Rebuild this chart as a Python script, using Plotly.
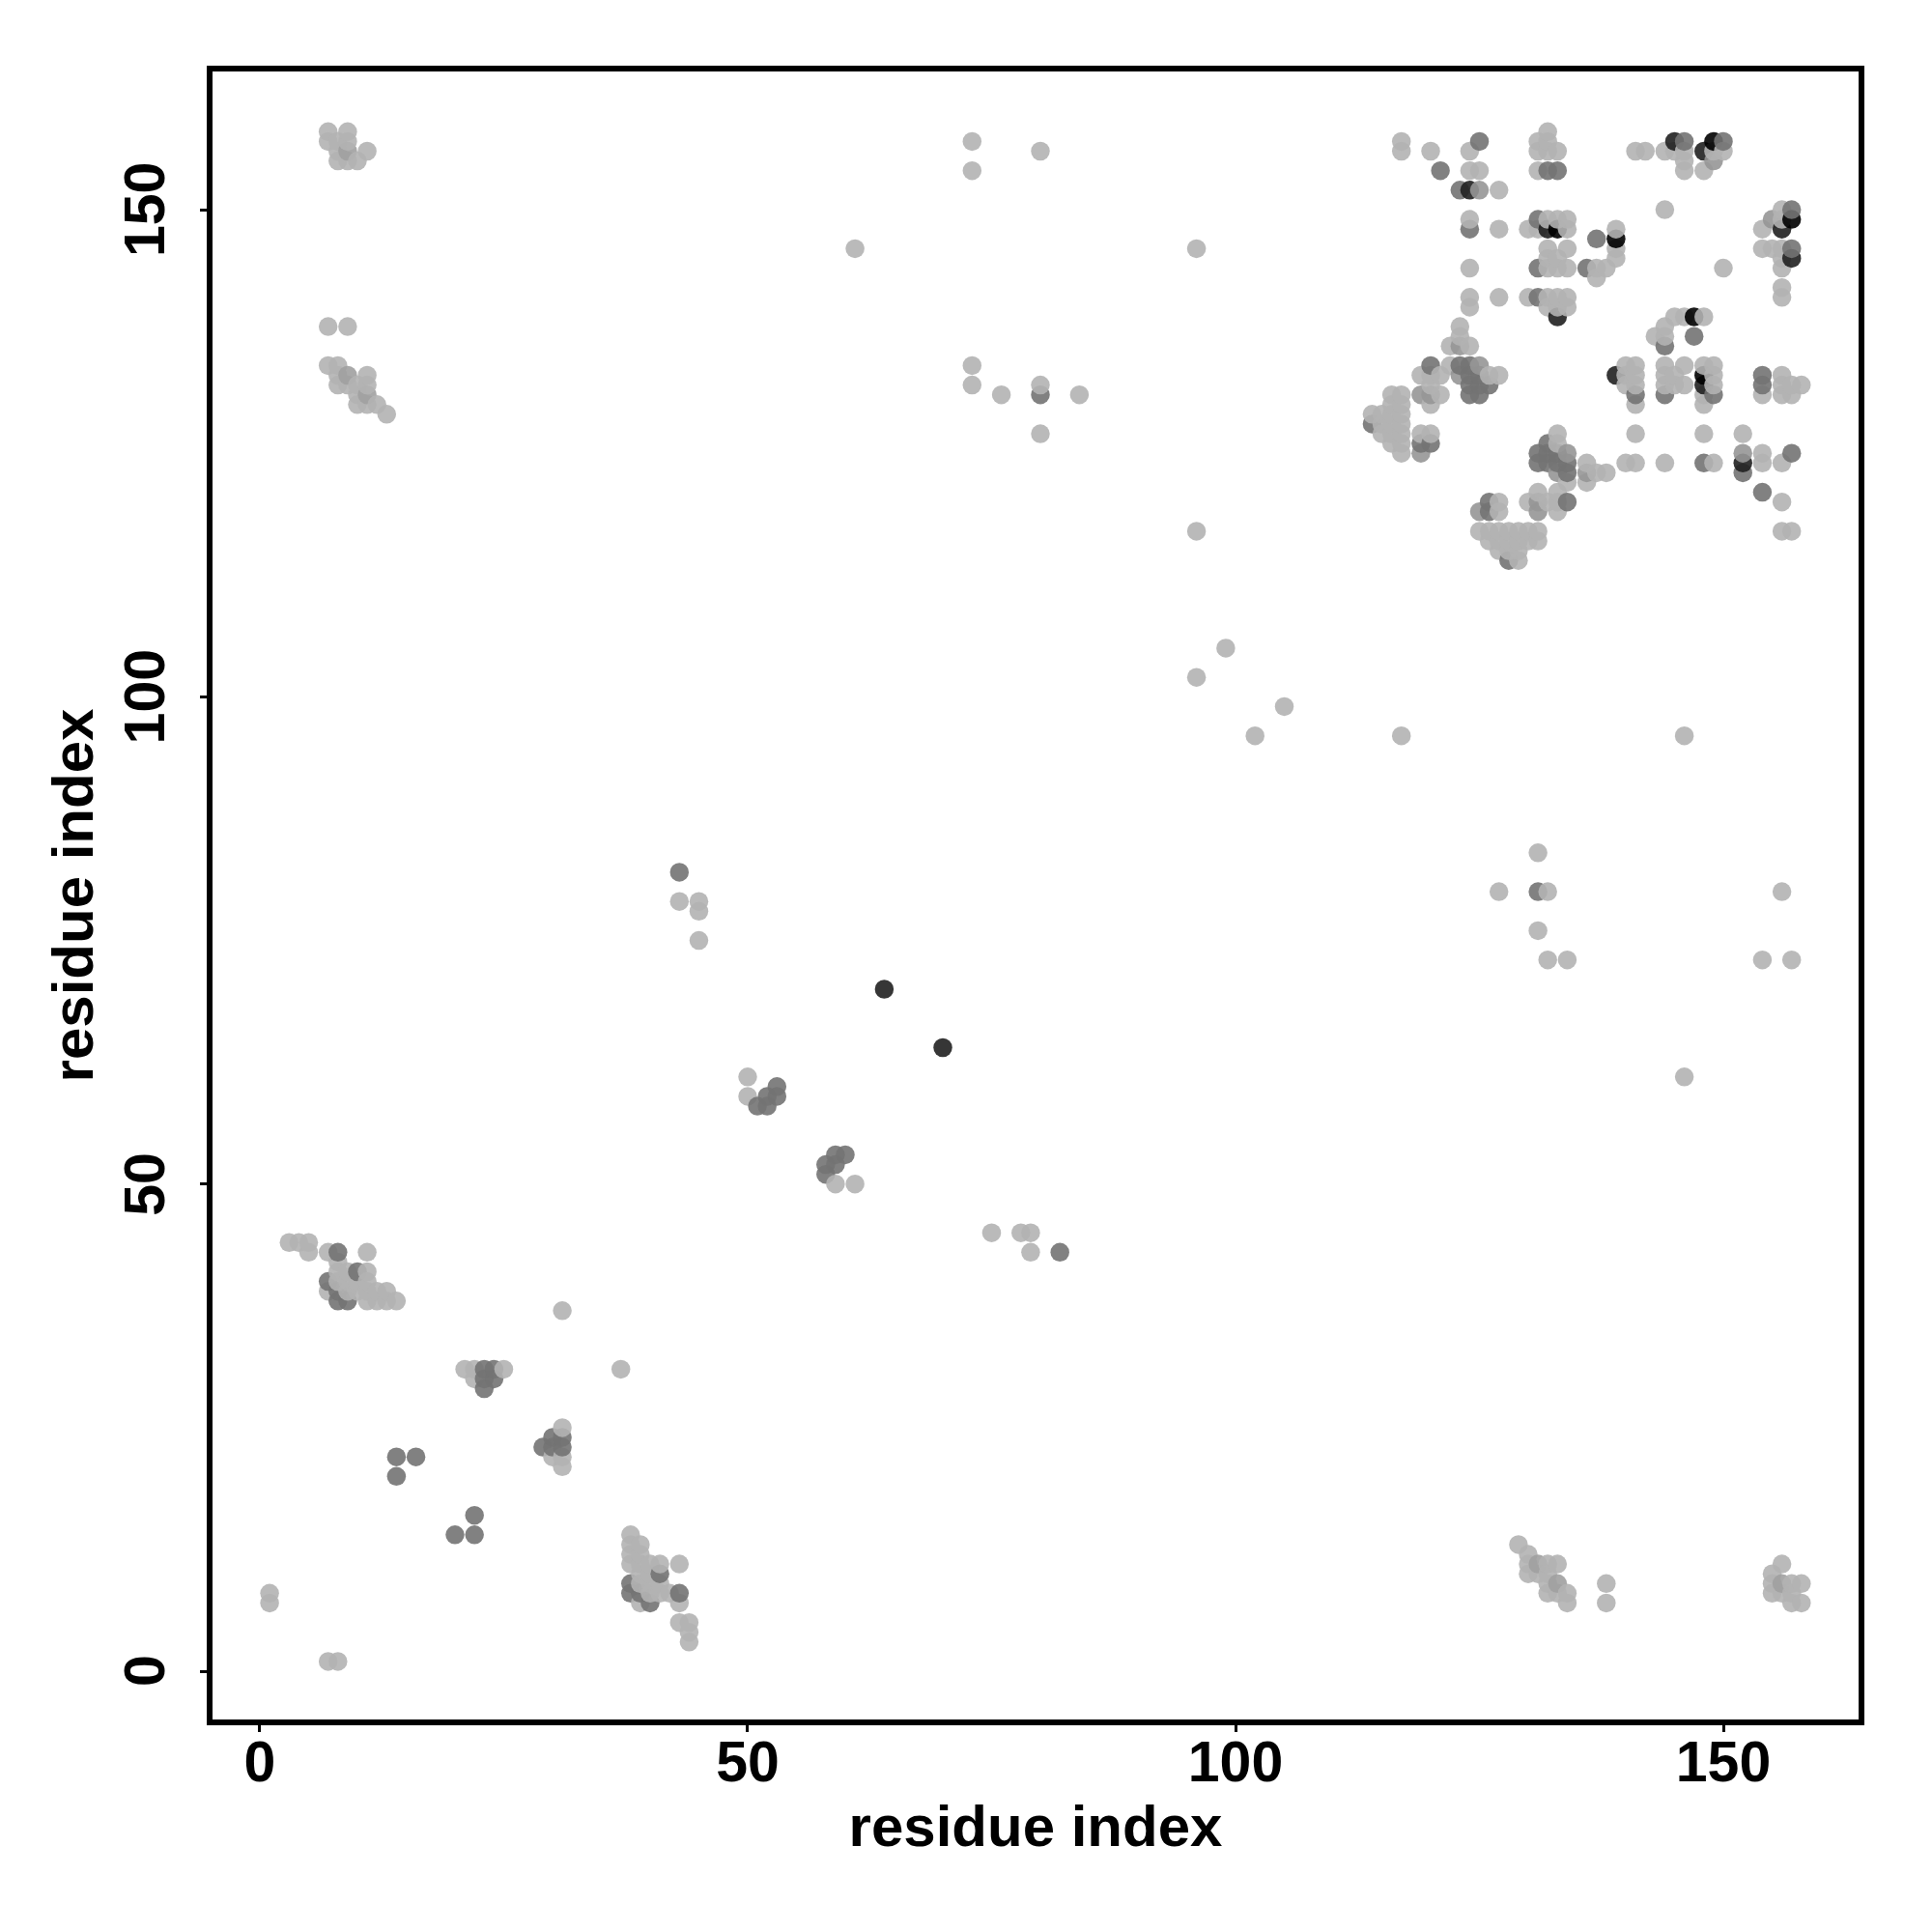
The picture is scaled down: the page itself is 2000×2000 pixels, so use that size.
import plotly.graph_objects as go

# contacts (i < j); the map is symmetric, both (i,j) and (j,i) are drawn
light_pairs = [
 (1,7),(1,8),(3,44),(4,44),(5,44),(5,43),(7,43),(11,43),(11,41),(8,40),(9,40),(10,40),(11,40),(8,41),(9,41),(8,42),
 (7,39),(9,39),(10,39),(11,39),(12,39),(13,39),(11,38),(12,38),(13,38),(14,38),
 (21,31),(22,31),(25,31),(22,30),(31,37),
 (13,129),(12,130),(11,130),(10,130),(10,131),(11,132),(10,132),(9,132),(8,132),(11,133),(8,133),(8,134),(7,134),(9,138),(7,138),
 (11,156),(10,155),(9,155),(8,155),(9,157),(9,158),(7,157),(7,158),(8,157),(8,156),
 (43,79),(45,79),(45,78),(45,75),(50,59),(50,61),(61,146),(96,146),(96,117),(96,102),(99,105),
 (73,157),(73,154),(80,156),(73,134),(73,132),(76,131),(80,132),(84,131),(80,127),
 (114,129),(115,127),(115,128),(115,129),
 (116,126),(116,127),(116,128),(116,129),(116,130),(116,131),
 (117,125),(117,126),(117,127),(117,128),(117,129),(117,130),(117,131),(117,156),(117,157),
 (119,127),(119,133),(120,127),(120,130),(120,131),(120,132),(120,133),(120,156),(121,131),(121,133),
 (122,134),(122,136),(123,137),(123,138),
 (124,136),(124,154),(124,156),(124,149),(124,144),(124,141),(124,140),
 (125,154),(126,133),(127,133),(127,152),(127,148),(127,141),(130,148),(130,141),
 (131,157),(131,156),(131,154),(131,148),
 (132,158),(132,157),(132,156),(132,149),(132,146),(132,145),(132,144),(132,141),(132,140),
 (133,156),(133,149),(133,145),(133,144),(133,141),(133,140),
 (134,149),(134,148),(134,146),(134,144),(134,141),(134,140),
 (137,144),(137,143),(138,144),(139,148),(139,146),(139,145),
 (141,156),(142,156),(144,156),(144,150),(145,156),(146,156),(146,155),(146,154),(148,154),(149,156),(150,156),
]
soft_pairs = [(11,131),(9,133),(9,156)]
pale_pairs = [(119,125),(119,131),(123,133),(123,136),(125,152),(125,134),(149,155),(120,131)]
mid_pairs = [
 (7,40),(8,43),(10,41),(8,39),(8,38),(9,38),(14,20),(14,22),(16,22),
 (23,31),(24,31),(23,30),(24,30),(23,29),
 (43,82),(51,58),(52,58),(52,59),(53,59),(53,60),(80,131),
 (114,128),(119,126),(120,126),(120,134),(121,154),(123,134),(123,152),
 (124,131),(124,132),(124,133),(124,134),(124,148),
 (125,131),(125,132),(125,133),(125,157),(126,132),
 (131,149),(131,144),(131,141),(132,154),(133,154),(136,144),(137,147),
 (146,157),(150,157),
]
dark_pairs = [(64,70),(124,152),(132,148),(133,139),(145,157),(148,156)]
black_pairs = [(133,148),(139,147),(149,157)]
grey_levels = {"light": 178, "soft": 160, "pale": 150, "mid": 115, "dark": 32, "black": 0}
tick_values = [0, 50, 100, 150]
axis_title = "residue index"

groups = [("light", light_pairs), ("soft", soft_pairs), ("pale", pale_pairs), ("mid", mid_pairs),
          ("dark", dark_pairs), ("black", black_pairs)]
cells = {}
for name, pairs in groups:
    for a, b in pairs:
        cells[(a, b)] = name
        cells[(b, a)] = name
order = sorted(cells)
xs = [c[0] for c in order]
ys = [c[1] for c in order]
cols = [f"rgba({grey_levels[cells[c]]},{grey_levels[cells[c]]},{grey_levels[cells[c]]},0.9)" for c in order]

fig = go.Figure(go.Scatter(x=xs, y=ys, mode="markers",
                           marker=dict(size=19.5, color=cols, line=dict(width=0)),
                           hoverinfo="x+y", showlegend=False))
font = "Liberation Sans"
tick_font = dict(family=font, size=59, color="black", weight="bold")
axis = dict(tickmode="array", tickvals=tick_values, ticktext=[str(t) for t in tick_values],
            ticks="outside", ticklen=7, tickwidth=3, tickcolor="black",
            showline=True, linewidth=6, linecolor="black", mirror=True,
            showgrid=False, zeroline=False, tickfont=tick_font)
fig.update_xaxes(**axis, range=[-4.85, 163.86], ticklabelstandoff=-20,
                 title=dict(text=f"<b>{axis_title}</b>", font=dict(family=font, size=60, color="black"), standoff=8))
fig.update_yaxes(**axis, range=[-4.95, 164.18], showticklabels=False,
                 title=dict(text=f"<b>{axis_title}</b>", font=dict(family=font, size=60, color="black"), standoff=93))
# rotated y tick labels, centred on their ticks
for t in tick_values:
    fig.add_annotation(x=0, xref="paper", y=t, yref="y", text=f"<b>{t}</b>", textangle=-90, showarrow=False,
                       xanchor="center", yanchor="middle", xshift=-70,
                       font=dict(family=font, size=59, color="black"))
fig.update_layout(width=2000, height=2000, autosize=False, paper_bgcolor="white", plot_bgcolor="white",
                  margin=dict(l=212, r=84, t=66, b=228, autoexpand=False))
fig.write_html("out.html")
